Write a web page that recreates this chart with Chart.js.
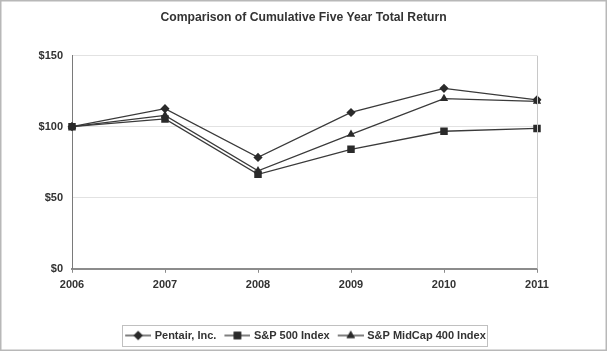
<!DOCTYPE html>
<html>
<head>
<meta charset="utf-8">
<script src="https://cdn.jsdelivr.net/npm/chart.js@4"></script>
<style>
  html, body { margin: 0; padding: 0; background: #fff; }
  #wrap { width: 607px; height: 351px; }
</style>
</head>
<body>
<div id="wrap"><canvas id="chart" width="607" height="351"></canvas></div>
<script>
const years = ["2006", "2007", "2008", "2009", "2010", "2011"];
const pentair = [100, 112.7, 78.4, 110.0, 127.0, 118.9];
const sp500 = [100, 105.5, 66.5, 84.1, 96.8, 98.8];
const midcap = [100, 108.0, 68.9, 94.6, 119.8, 117.8];
const yTicks = [0, 50, 100, 150];

const inkColor = "#333333";
const lineColor = "#3a3a3a";
const font = "'Liberation Sans', Arial, sans-serif";

// legend glyph: line with the marker in the middle, with a blank margin on the left
function legendGlyph(style, r) {
  const c = document.createElement("canvas");
  c.width = 32;
  c.height = 12;
  const ctx = c.getContext("2d");
  ctx.strokeStyle = lineColor;
  ctx.lineWidth = 1.3;
  ctx.beginPath();
  ctx.moveTo(6, 6);
  ctx.lineTo(32, 6);
  ctx.stroke();
  ctx.fillStyle = "#2a2a2a";
  Chart.helpers.drawPoint(ctx, { pointStyle: style, radius: r, rotation: 0, borderWidth: 0 }, 19, 6);
  ctx.fill();
  return c;
}

const series = [
  { label: "Pentair, Inc.", data: pentair, style: "rectRot", r: 4.6 },
  { label: "S&P 500 Index", data: sp500, style: "rect", r: 5.3 },
  { label: "S&P MidCap 400 Index", data: midcap, style: "triangle", r: 4.8 },
];

const frame = {
  id: "frame",
  afterDraw(chart) {
    const { ctx, chartArea } = chart;
    ctx.save();
    // right edge of plot
    ctx.strokeStyle = "#c8c8c8";
    ctx.lineWidth = 1;
    ctx.beginPath();
    ctx.moveTo(chartArea.right + 0.5, chartArea.top);
    ctx.lineTo(chartArea.right + 0.5, chartArea.bottom);
    ctx.stroke();

    // box around the legend
    const boxes = chart.legend.legendHitBoxes;
    if (boxes && boxes.length) {
      const first = boxes[0];
      const last = boxes[boxes.length - 1];
      const cy = first.top + first.height / 2;
      const left = Math.round(first.left + 1) + 0.5;
      const right = Math.round(last.left + last.width + 1) + 0.5;
      ctx.strokeStyle = "#c0c0c0";
      ctx.strokeRect(left, Math.round(cy - 11) + 0.5, right - left, 21);
    }

    // outer border
    ctx.strokeStyle = "#b8b8b8";
    ctx.lineWidth = 1.5;
    ctx.strokeRect(0.75, 0.75, 605.5, 349.5);
    ctx.restore();
  },
};

new Chart(document.getElementById("chart"), {
  type: "line",
  data: {
    labels: years,
    datasets: series.map((s) => ({
      label: s.label,
      data: s.data,
      borderColor: lineColor,
      borderWidth: 1.3,
      backgroundColor: "#2a2a2a",
      pointStyle: s.style,
      pointRadius: s.r,
      pointBorderWidth: 0,
      pointBackgroundColor: "#2a2a2a",
      tension: 0,
      fill: false,
    })),
  },
  options: {
    responsive: false,
    animation: false,
    layout: { padding: { left: 0, right: 0, top: 0, bottom: 0 } },
    scales: {
      x: {
        offset: false,
        afterFit: (scale) => {
          scale.height += 28;
        },
        grid: {
          drawOnChartArea: false,
          drawTicks: true,
          tickLength: 4,
          color: "#8a8a8a",
        },
        border: { color: "#8c8c8c", width: 2 },
        ticks: {
          padding: 6,
          color: inkColor,
          font: { family: font, size: 11, weight: "bold" },
          maxRotation: 0,
        },
      },
      y: {
        min: 0,
        max: 150,
        afterBuildTicks: (scale) => {
          scale.ticks = yTicks.map((v) => ({ value: v }));
        },
        afterFit: (scale) => {
          scale.width = 72;
        },
        grid: { color: "#e2e2e2", drawTicks: false, lineWidth: 1 },
        border: { color: "#7a7a7a", width: 1 },
        ticks: {
          padding: 9,
          color: inkColor,
          font: { family: font, size: 11, weight: "bold" },
          callback: (v) => "$" + v,
        },
      },
      // empty spacer on the right so the title and legend stay centred on the page
      spacer: {
        type: "linear",
        position: "right",
        min: 0,
        max: 150,
        afterFit: (scale) => {
          scale.width = 70;
        },
        grid: { display: false },
        border: { display: false },
        ticks: { display: false },
      },
    },
    plugins: {
      title: {
        display: true,
        text: "Comparison of Cumulative Five Year Total Return",
        color: inkColor,
        font: { family: font, size: 12.2, weight: "bold" },
        padding: { top: 10, bottom: 31 },
      },
      legend: {
        position: "bottom",
        labels: {
          usePointStyle: true,
          pointStyleWidth: 28,
          padding: 4,
          color: inkColor,
          font: { family: font, size: 11, weight: "bold" },
          generateLabels: (chart) =>
            series.map((s, i) => ({
              text: s.label,
              datasetIndex: i,
              pointStyle: legendGlyph(s.style, s.r),
              fontColor: inkColor,
              lineWidth: 0,
              hidden: false,
            })),
        },
      },
      tooltip: { enabled: false },
    },
  },
  plugins: [frame],
});
</script>
</body>
</html>
